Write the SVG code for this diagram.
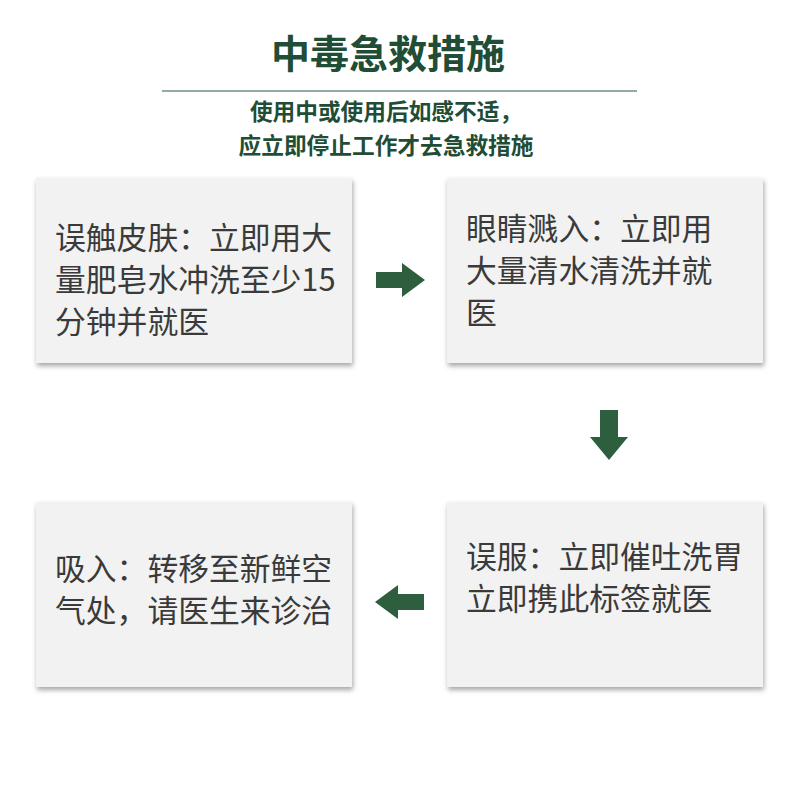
<svg xmlns="http://www.w3.org/2000/svg" width="800" height="800" viewBox="0 0 800 800">
<style>
.t{font-family:"Noto Sans CJK SC","Noto Sans",sans-serif;font-size:30.8px;fill:#3a3a3a}
.box{fill:#f2f2f2;filter:url(#sh)}
.ar{fill:#2d5e3e}
.s{font-family:"Noto Sans CJK SC",sans-serif;font-weight:bold;font-size:22.7px;fill:#1f4d36}
</style>
<defs><filter id="sh" x="-10%" y="-10%" width="120%" height="130%"><feDropShadow dx="1" dy="3" stdDeviation="2.5" flood-color="#000" flood-opacity="0.35"/></filter></defs>
<rect width="800" height="800" fill="#fff"/>
<text x="388" y="68" text-anchor="middle" font-family="Noto Sans CJK SC,sans-serif" font-weight="bold" font-size="39" fill="#1f4d36">中毒急救措施</text>
<line x1="162" y1="91" x2="637" y2="91" stroke="#6f8f7f" stroke-width="1.5"/>
<text class="s" x="386" y="120" text-anchor="middle">使用中或使用后如感不适，</text>
<text class="s" x="386" y="154" text-anchor="middle">应立即停止工作才去急救措施</text>
<g id="n1"><rect class="box" x="36" y="178" width="316" height="185"/>
<text class="t" x="55" y="249">误触皮肤：立即用大</text><text class="t" x="55" y="291">量肥皂水冲洗至少15</text><text class="t" x="55" y="333">分钟并就医</text></g>
<g id="n2"><rect class="box" x="447" y="178" width="316" height="185"/>
<text class="t" x="466" y="240">眼睛溅入：立即用</text><text class="t" x="466" y="282">大量清水清洗并就</text><text class="t" x="466" y="324">医</text></g>
<g id="n3"><rect class="box" x="447" y="502" width="316" height="185"/>
<text class="t" x="466" y="568">误服：立即催吐洗胃</text><text class="t" x="466" y="610">立即携此标签就医</text></g>
<g id="n4"><rect class="box" x="36" y="502" width="316" height="185"/>
<text class="t" x="55" y="580">吸入：转移至新鲜空</text><text class="t" x="55" y="622">气处，请医生来诊治</text></g>
<g id="connectors">
<polygon class="ar" points="376,272 402,272 402,263 425,280 402,297 402,288 376,288"/>
<polygon class="ar" points="600,410 618,410 618,437 628,437 609,460 590,437 600,437"/>
<polygon class="ar" points="424,594 398,594 398,585 375,602 398,619 398,610 424,610"/>
</g>
</svg>
